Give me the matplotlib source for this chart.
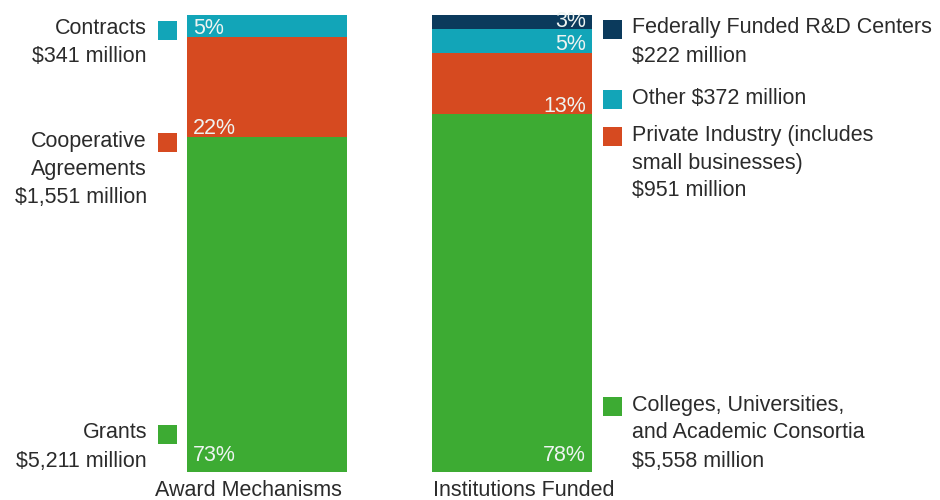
import matplotlib.pyplot as plt
from matplotlib.patches import Rectangle

plt.rcParams['font.family'] = ['Liberation Sans', 'DejaVu Sans']

# award mechanisms, top to bottom ($ million)
award_names = ["Contracts", "Cooperative Agreements", "Grants"]
award_values = [341, 1551, 5211]
award_labels = [["Contracts", "$341 million"],
                ["Cooperative", "Agreements", "$1,551 million"],
                ["Grants", "$5,211 million"]]

# institutions funded, top to bottom ($ million)
inst_names = ["FFRDC", "Other", "Private Industry", "Colleges"]
inst_values = [222, 372, 951, 5558]
inst_labels = [["Federally Funded R&D Centers", "$222 million"],
               ["Other $372 million"],
               ["Private Industry (includes", "small businesses)", "$951 million"],
               ["Colleges, Universities,", "and Academic Consortia", "$5,558 million"]]

bar_titles = ["Award Mechanisms", "Institutions Funded"]

cyan = '#12a5b8'
orange = '#d64a20'
green = '#3dab33'
navy = '#0b3a5c'
award_colors = [cyan, orange, green]
inst_colors = [navy, cyan, orange, green]
txt = '#2b2b2b'
fs = 15.5

fig = plt.figure(figsize=(9.4, 5), dpi=100)

# bars axis, pixel-aligned horizontally, values vertically (0 at top)
axb = fig.add_axes([0, 28 / 500, 1, 457 / 500])
axb.set_xlim(0, 940)
total = sum(award_values)
axb.set_ylim(total, 0)
axb.axis('off')

# overlay axis in pixel units for labels
axt = fig.add_axes([0, 0, 1, 1])
axt.set_xlim(0, 940)
axt.set_ylim(500, 0)
axt.axis('off')


def draw_bar(xc, values, colors, pct_x, ha):
    bottom = 0
    n = len(values)
    for i, (v, c) in enumerate(zip(values, colors)):
        axb.bar(xc, v, bottom=bottom, width=160, color=c, edgecolor='none')
        bottom += v
        pct = round(v / sum(values) * 100)
        off = 8 if i == n - 1 else 2
        axb.annotate(f"{pct}%", (pct_x, bottom), xytext=(0, off),
                     textcoords='offset points', ha=ha, va='baseline',
                     color='#eef4f2', fontsize=fs)


draw_bar(267, award_values, award_colors, 193, 'left')
draw_bar(512, inst_values, inst_colors, 586, 'right')

# left side legend
left_y = [29, 141, 433]
for lines, y0, c in zip(award_labels, left_y, award_colors):
    for i, line in enumerate(lines):
        axt.text(147, y0 + i * 28, line, ha='right', va='center',
                 fontsize=fs, color=txt)
    axt.add_patch(Rectangle((158, y0 - 8), 19, 19, color=c, lw=0))

# right side legend
right_y = [28, 98, 135, 405]
for lines, y0, c in zip(inst_labels, right_y, inst_colors):
    for i, line in enumerate(lines):
        axt.text(632, y0 + i * 28, line, ha='left', va='center',
                 fontsize=fs, color=txt)
    axt.add_patch(Rectangle((603, y0 - 8), 19, 19, color=c, lw=0))

axt.text(248, 490, bar_titles[0], ha='center', va='center', fontsize=fs, color=txt)
axt.text(524, 490, bar_titles[1], ha='center', va='center', fontsize=fs, color=txt)

fig.savefig('out.png', dpi=100)
